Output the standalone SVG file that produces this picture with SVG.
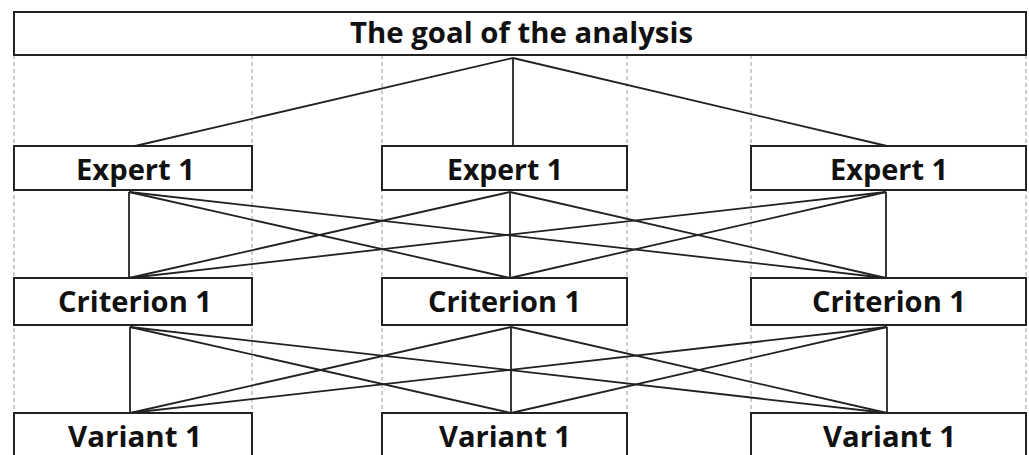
<svg xmlns="http://www.w3.org/2000/svg" width="1029" height="455" viewBox="0 0 1029 455">
<style>
.box{fill:#fff;stroke:#222;stroke-width:2}
.guide{stroke:#999;stroke-width:1;stroke-dasharray:4,3;fill:none}
.edge{stroke:#222;stroke-width:1.8;fill:none}
.lbl{font-family:"Open Sans","Liberation Sans",sans-serif;font-weight:bold;font-size:29px;fill:#111;text-anchor:middle}
</style>
<rect width="1029" height="455" fill="#fff"/>
<g id="guides">
<line class="guide" x1="14" y1="55" x2="14" y2="455"/>
<line class="guide" x1="252" y1="55" x2="252" y2="455"/>
<line class="guide" x1="382" y1="55" x2="382" y2="455"/>
<line class="guide" x1="627" y1="55" x2="627" y2="455"/>
<line class="guide" x1="751" y1="55" x2="751" y2="455"/>
<line class="guide" x1="1026" y1="55" x2="1026" y2="455"/>
</g>
<g id="connectors">
<line class="edge" x1="513" y1="58" x2="135" y2="146"/>
<line class="edge" x1="513" y1="58" x2="513" y2="146"/>
<line class="edge" x1="513" y1="58" x2="887" y2="146"/>
<line class="edge" x1="129" y1="192" x2="129" y2="278"/>
<line class="edge" x1="129" y1="192" x2="510" y2="278"/>
<line class="edge" x1="129" y1="192" x2="886" y2="278"/>
<line class="edge" x1="510" y1="192" x2="129" y2="278"/>
<line class="edge" x1="510" y1="192" x2="510" y2="278"/>
<line class="edge" x1="510" y1="192" x2="886" y2="278"/>
<line class="edge" x1="886" y1="192" x2="129" y2="278"/>
<line class="edge" x1="886" y1="192" x2="510" y2="278"/>
<line class="edge" x1="886" y1="192" x2="886" y2="278"/>
<line class="edge" x1="130" y1="327" x2="130" y2="413"/>
<line class="edge" x1="130" y1="327" x2="511" y2="413"/>
<line class="edge" x1="130" y1="327" x2="887" y2="413"/>
<line class="edge" x1="511" y1="327" x2="130" y2="413"/>
<line class="edge" x1="511" y1="327" x2="511" y2="413"/>
<line class="edge" x1="511" y1="327" x2="887" y2="413"/>
<line class="edge" x1="887" y1="327" x2="130" y2="413"/>
<line class="edge" x1="887" y1="327" x2="511" y2="413"/>
<line class="edge" x1="887" y1="327" x2="887" y2="413"/>
</g>
<g id="goal">
<rect class="box" x="14" y="12" width="1012" height="43"/>
<text class="lbl" x="521.5" y="43" textLength="343" lengthAdjust="spacingAndGlyphs">The goal of the analysis</text>
</g>
<g id="expert-left">
<rect class="box" x="14" y="146" width="238" height="44"/>
<text class="lbl" x="135.5" y="180" textLength="119" lengthAdjust="spacingAndGlyphs">Expert 1</text>
</g>
<g id="expert-mid">
<rect class="box" x="382" y="146" width="245" height="44"/>
<text class="lbl" x="505" y="180" textLength="116" lengthAdjust="spacingAndGlyphs">Expert 1</text>
</g>
<g id="expert-right">
<rect class="box" x="751" y="146" width="275" height="44"/>
<text class="lbl" x="889" y="180" textLength="118" lengthAdjust="spacingAndGlyphs">Expert 1</text>
</g>
<g id="criterion-left">
<rect class="box" x="14" y="278" width="238" height="47"/>
<text class="lbl" x="135" y="312" textLength="154" lengthAdjust="spacingAndGlyphs">Criterion 1</text>
</g>
<g id="criterion-mid">
<rect class="box" x="382" y="278" width="245" height="47"/>
<text class="lbl" x="504.5" y="312" textLength="153" lengthAdjust="spacingAndGlyphs">Criterion 1</text>
</g>
<g id="criterion-right">
<rect class="box" x="751" y="278" width="275" height="47"/>
<text class="lbl" x="889" y="312" textLength="154" lengthAdjust="spacingAndGlyphs">Criterion 1</text>
</g>
<g id="variant-left">
<rect class="box" x="14" y="413" width="238" height="50"/>
<text class="lbl" x="135" y="447" textLength="134" lengthAdjust="spacingAndGlyphs">Variant 1</text>
</g>
<g id="variant-mid">
<rect class="box" x="382" y="413" width="245" height="50"/>
<text class="lbl" x="505" y="447" textLength="132" lengthAdjust="spacingAndGlyphs">Variant 1</text>
</g>
<g id="variant-right">
<rect class="box" x="751" y="413" width="275" height="50"/>
<text class="lbl" x="889.5" y="447" textLength="133" lengthAdjust="spacingAndGlyphs">Variant 1</text>
</g>
</svg>
